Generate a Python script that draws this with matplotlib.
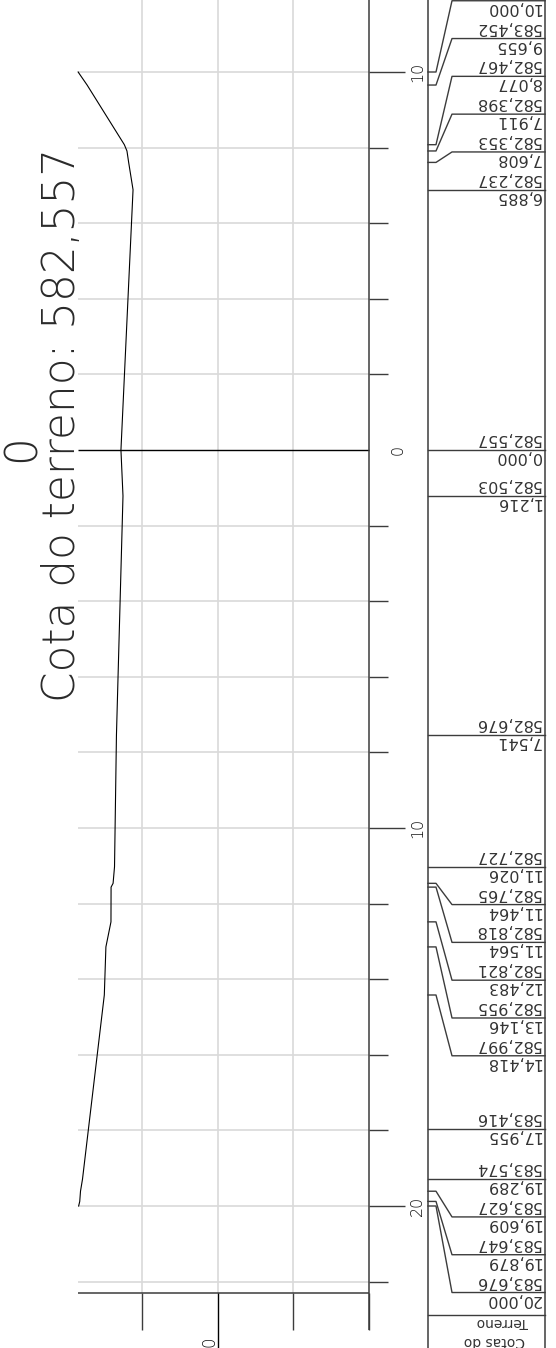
import matplotlib
matplotlib.use("Agg")
import matplotlib.pyplot as plt
from matplotlib.transforms import blended_transform_factory

# ---------------- data ----------------
distances = [-10.000, -9.655, -8.077, -7.911, -7.608, -6.885, 0.000, 1.216, 7.541,
             11.026, 11.464, 11.564, 12.483, 13.146, 14.418, 17.955, 19.289,
             19.609, 19.879, 20.000]
elevations = [583.690, 583.452, 582.467, 582.398, 582.353, 582.237, 582.557, 582.503,
              582.676, 582.727, 582.765, 582.818, 582.821, 582.955, 582.997, 583.416,
              583.574, 583.627, 583.647, 583.676]
station_label = "0"
title_text = "Cota do terreno: 582,557"
dist_tick_values = [-10, 0, 10, 20]
grid_distances = list(range(-10, 23, 2))
grid_elevations = [582, 580, 578]
axis_elevation = 576
datum_label = "0"
header_lines = ["Terreno", "Cotas do"]

# ---------------- layout ----------------
W, H, DPI = 556, 1348, 100
PX = 37.8            # pixels per metre (both directions)
E0_PX = 142          # pixel column of elevation 582
D0_PX = 450          # pixel row of distance 0

def e_at(px):        # pixel column -> elevation
    return 582 - (px - E0_PX) / PX

def d_at(py):        # pixel row -> distance
    return (py - D0_PX) / PX

def fx(px):          # pixel column -> axes fraction
    return px / W

fig = plt.figure(figsize=(W / DPI, H / DPI), dpi=DPI)
ax = fig.add_axes([0, 0, 1, 1])
ax.axis("off")
ax.set_xlim(e_at(0), e_at(W))
ax.set_ylim(d_at(H), d_at(0))
tr = blended_transform_factory(ax.transAxes, ax.transData)

LIGHT = "#d9d9d9"
DARK = "#3c3c3c"
TXT = "#2a2a2a"
FONT = "DejaVu Sans"

emax = max(elevations)
d_top = d_at(-10)
d_base = d_at(1293)
d_base_tick = d_at(1330)

# grid
ax.vlines(grid_elevations, d_top, d_base, color=LIGHT, lw=1.2, zorder=1)
for d in grid_distances:
    if d == 0:
        ax.hlines(d, axis_elevation, emax, color="black", lw=1.0, zorder=3)
    else:
        ax.hlines(d, axis_elevation, emax, color=LIGHT, lw=1.2, zorder=1)
        tick_len = 36 if d % 10 == 0 else 19
        ax.hlines(d, axis_elevation, axis_elevation - tick_len / PX, color=DARK, lw=1.0, zorder=3)

# main vertical axis
ax.vlines(axis_elevation, d_top, d_base_tick, color=DARK, lw=1.1, zorder=3)

# distance tick labels
for d in dist_tick_values:
    xb = 403 if d == 0 else 422
    ax.text(e_at(xb), d, f"{abs(d)}", rotation=90, rotation_mode="anchor",
            ha="center", va="baseline", fontsize=11.5, family=FONT,
            fontweight="light", color="#111111")

# bottom elevation base line and ticks
ax.hlines(d_base, axis_elevation, emax, color=DARK, lw=1.1, zorder=3)
for e in grid_elevations + [axis_elevation]:
    end = d_at(H + 5) if e == 580 else d_base_tick
    ax.vlines(e, d_base, end, color="black" if e == 580 else DARK, lw=1.0, zorder=3)
ax.text(e_at(215), d_at(1342), datum_label, rotation=90, rotation_mode="anchor",
        ha="center", va="baseline", fontsize=12, family=FONT,
        fontweight="light", color="#111111")

# terrain profile
ax.plot(elevations, distances, color="black", lw=0.8, zorder=4)

# title texts
ax.text(e_at(75), d_at(425), title_text, rotation=90, rotation_mode="anchor",
        ha="center", va="baseline", fontsize=31.5, family=FONT,
        fontweight="light", color=TXT)
ax.text(e_at(35), d_at(448), station_label, rotation=90, rotation_mode="anchor",
        ha="center", va="baseline", fontsize=31.5, family=FONT,
        fontweight="light", color=TXT)

# ---------------- table ----------------
T_LEFT, T_RIGHT = 428, 545
ax.plot([fx(T_LEFT)] * 2, [d_at(-10), d_at(H + 10)], transform=tr, color=DARK, lw=1.1)
ax.plot([fx(T_RIGHT)] * 2, [d_at(-10), d_at(H + 10)], transform=tr, color=DARK, lw=1.1)

# label line positions (pushed apart outward from the centre)
spacing = 1.0
n = len(distances)
line_pos = [None] * n
prev = None
for i in sorted([i for i in range(n) if distances[i] >= 0], key=lambda i: distances[i]):
    y = distances[i] if prev is None else max(distances[i], prev + spacing)
    line_pos[i] = y
    prev = y
prev = 0.0
for i in sorted([i for i in range(n) if distances[i] < 0], key=lambda i: -distances[i]):
    y = min(distances[i], prev - spacing)
    line_pos[i] = y
    prev = y

def fmt(v):
    return f"{v:.3f}".replace(".", ",")

TABLE_TXT = dict(transform=tr, rotation=180, rotation_mode="anchor", ha="left",
                 va="baseline", fontsize=11.5, family=FONT, color="#333333")
view_top = d_at(0)
for d, e, y in zip(distances, elevations, line_pos):
    if abs(y - d) < 1e-9:
        ax.plot([fx(T_LEFT), fx(T_RIGHT)], [d, d], transform=tr, color=DARK, lw=1.0)
    else:
        ax.plot([fx(T_LEFT), fx(436), fx(452), fx(T_RIGHT)], [d, d, y, y],
                transform=tr, color=DARK, lw=1.0)
    y_elev = y - 16 / PX
    if y_elev > view_top:   # label lies inside the cropped sheet
        ax.text(fx(541), y_elev, fmt(e), **TABLE_TXT)
    ax.text(fx(541), y + 2 / PX, fmt(abs(d)), **TABLE_TXT)

# header row
y_head = max(line_pos) + 0.6
ax.plot([fx(T_LEFT), fx(T_RIGHT)], [y_head, y_head], transform=tr, color=DARK, lw=1.0)
HEAD_TXT = dict(transform=tr, rotation=180, rotation_mode="anchor", ha="center",
                va="baseline", fontsize=10, family=FONT, color="#333333")
ax.text(fx(502), y_head + 3 / PX, header_lines[0], **HEAD_TXT)
ax.text(fx(494), y_head + 22 / PX, header_lines[1], **HEAD_TXT)

fig.savefig("out.png", dpi=DPI)
